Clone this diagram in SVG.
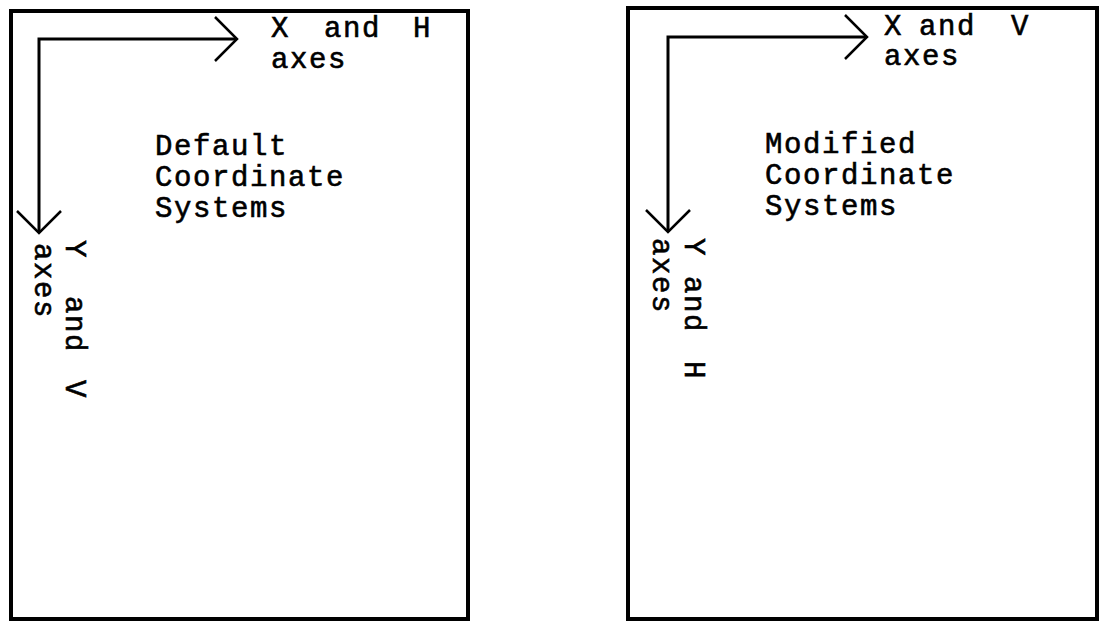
<svg xmlns="http://www.w3.org/2000/svg" width="1100" height="622" viewBox="0 0 1100 622">
<style>
.box{fill:none;stroke:#000;stroke-width:4}
.ax{fill:none;stroke:#000;stroke-width:3;stroke-linejoin:miter}
.hd{fill:none;stroke:#000;stroke-width:2.5}
text{font-family:"Liberation Mono","DejaVu Sans Mono",monospace;font-size:29px;letter-spacing:1.6px;fill:#000;stroke:#000;stroke-width:0.6}
</style>
<rect width="1100" height="622" fill="#fff"/>
<g id="default-panel">
<rect class="box" x="11" y="11" width="457" height="608"/>
<text x="271" y="37">X</text><text x="324" y="37">and</text><text x="413" y="37">H</text>
<text x="271" y="68">axes</text>
<text x="155" y="155">Default</text>
<text x="155" y="186">Coordinate</text>
<text x="155" y="217">Systems</text>
<text transform="translate(66,240) rotate(90)">Y</text>
<text transform="translate(66,296) rotate(90)">and</text>
<text transform="translate(66,380) rotate(90)">V</text>
<text transform="translate(35,243) rotate(90)">axes</text>
</g>
<g id="modified-panel">
<rect class="box" x="628" y="8" width="469" height="611"/>
<text x="884" y="35">X</text><text x="919" y="35">and</text><text x="1011" y="35">V</text>
<text x="884" y="65">axes</text>
<text x="765" y="153">Modified</text>
<text x="765" y="184">Coordinate</text>
<text x="765" y="215">Systems</text>
<text transform="translate(685,238) rotate(90)">Y</text>
<text transform="translate(685,276) rotate(90)">and</text>
<text transform="translate(685,361) rotate(90)">H</text>
<text transform="translate(653,238) rotate(90)">axes</text>
</g>
<g id="connectors">
<path class="ax" d="M39,233 V39 H237"/>
<polyline class="hd" points="215,17 237,39 215,61"/>
<polyline class="hd" points="17,211 39,233 61,211"/>
<path class="ax" d="M668,232 V37 H867"/>
<polyline class="hd" points="845,15 867,37 845,59"/>
<polyline class="hd" points="646,210 668,232 690,210"/>
</g>
</svg>
